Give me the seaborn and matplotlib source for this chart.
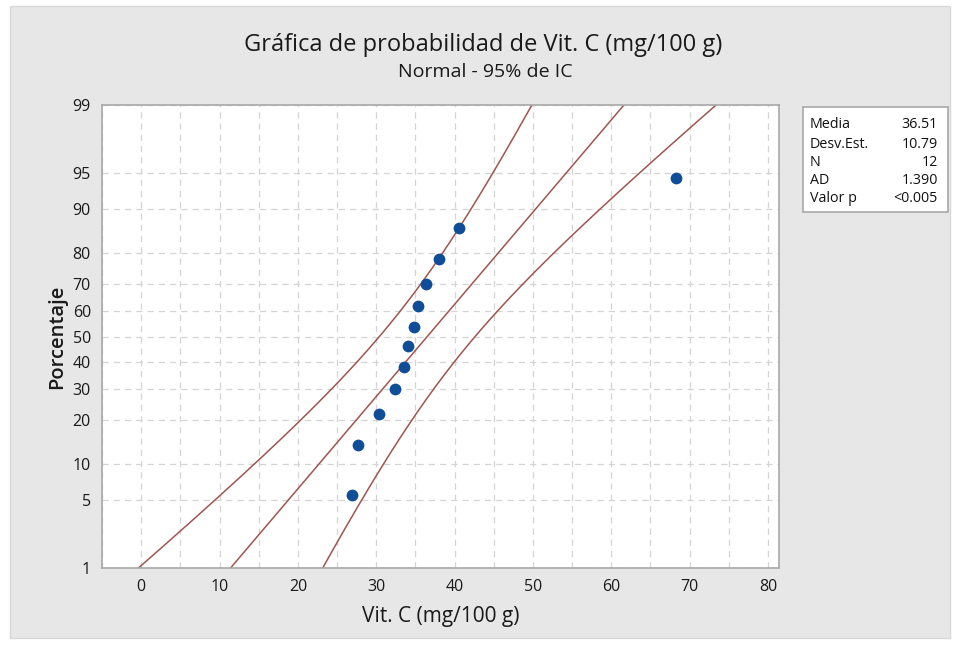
import numpy as np
import pandas as pd
import matplotlib
matplotlib.use("Agg")
import matplotlib.pyplot as plt
import seaborn as sns
from statistics import NormalDist

# ---- data ----
vitc = [26.9, 27.7, 30.3, 32.4, 33.6, 34.1, 34.8, 35.3, 36.3, 38.0, 40.6, 68.2]
percent = [5.6, 13.7, 21.8, 29.8, 37.9, 46.0, 54.0, 62.1, 70.2, 78.2, 86.3, 94.4]
media = 36.51
desv = 10.79
n_obs = 12
ad = 1.390
pval = "<0.005"
y_ticks = [1, 5, 10, 20, 30, 40, 50, 60, 70, 80, 90, 95, 99]
x_ticks = [0, 10, 20, 30, 40, 50, 60, 70, 80]
stat_names = ["Media", "Desv.Est.", "N", "AD", "Valor p"]
stat_values = [f"{media:.2f}", f"{desv:.2f}", f"{n_obs}", f"{ad:.3f}", pval]

title = "Gráfica de probabilidad de Vit. C (mg/100 g)"
subtitle = "Normal - 95% de IC"
xlabel = "Vit. C (mg/100 g)"
ylabel = "Porcentaje"

# ---- fitted line and 95% CI from the displayed parameters ----
nd = NormalDist()
p_grid = np.linspace(0.2, 99.8, 400)
z_grid = np.array([nd.inv_cdf(p / 100) for p in p_grid])
x_fit = media + z_grid * desv
se = np.sqrt(desv**2 / n_obs * (1 + z_grid**2 / 2))
x_lo = x_fit - 1.96 * se
x_hi = x_fit + 1.96 * se

lines = pd.concat([
    pd.DataFrame({"x": x_fit, "p": p_grid, "curve": "fit"}),
    pd.DataFrame({"x": x_lo, "p": p_grid, "curve": "lo"}),
    pd.DataFrame({"x": x_hi, "p": p_grid, "curve": "hi"}),
])
pts = pd.DataFrame({"x": vitc, "p": percent})

sns.set_theme(style="white")
plt.rcParams["font.family"] = ["Open Sans", "DejaVu Sans"]

txt = "#1a1a1a"
fig = plt.figure(figsize=(9.58, 6.46), dpi=100)
fig.patch.set_facecolor("white")
# gray panel
fig.patches.append(matplotlib.patches.Rectangle(
    (10 / 958, 8 / 646), 940 / 958, 632 / 646, transform=fig.transFigure,
    facecolor="#e7e7e7", edgecolor="#d8d8d8", lw=1, zorder=-10))

ax = fig.add_axes([102 / 958, 1 - 568 / 646, 677 / 958, 463 / 646])
ax.set_facecolor("white")


def fwd(p):
    p = np.clip(np.asarray(p, dtype=float), 1e-6, 100 - 1e-6)
    return np.vectorize(lambda v: nd.inv_cdf(v / 100))(p) if p.size else p


def inv(z):
    z = np.asarray(z, dtype=float)
    return np.vectorize(lambda v: nd.cdf(v) * 100)(z) if z.size else z


ax.set_yscale("function", functions=(fwd, inv))

line_col = "#a0554f"
sns.lineplot(data=lines, x="x", y="p", units="curve", estimator=None, sort=False,
             color=line_col, lw=1.1, ax=ax, legend=False)
sns.scatterplot(data=pts, x="x", y="p", color="#0f4d98", s=72, marker="o",
                edgecolor="#0f4d98", linewidth=0, ax=ax, zorder=5)

ax.set_xlim(-4.9, 81.4)
ax.set_ylim(1, 99)
ax.set_yticks(y_ticks)
ax.set_yticklabels([str(t) for t in y_ticks])
ax.set_xticks(x_ticks)
ax.set_xticks(np.arange(-5, 85, 5), minor=True)
ax.yaxis.set_minor_locator(matplotlib.ticker.NullLocator())

ax.grid(True, which="both", axis="x", color="#d4d4d4", ls=(0, (5, 4)), lw=0.9)
ax.grid(True, which="major", axis="y", color="#d4d4d4", ls=(0, (5, 4)), lw=0.9)
ax.set_axisbelow(True)

for s in ax.spines.values():
    s.set_color("#a8a8a8")
    s.set_linewidth(1.2)
ax.tick_params(axis="both", which="major", direction="out", length=5, width=1,
               color="#a8a8a8", labelsize=11.5, labelcolor=txt, pad=3)
ax.tick_params(axis="x", which="minor", length=0)
for lab in ax.get_xticklabels() + ax.get_yticklabels():
    lab.set_fontweight("medium")

ax.set_xlabel(xlabel, fontsize=15, color=txt, labelpad=8, fontweight="medium")
ax.set_ylabel(ylabel, fontsize=14.5, color=txt, labelpad=4, fontweight="semibold")

fig.text(483 / 958, 1 - 45 / 646, title, ha="center", va="center", fontsize=17,
         color=txt, fontweight="medium")
fig.text(485 / 958, 1 - 72 / 646, subtitle, ha="center", va="center", fontsize=14,
         color=txt, fontweight="medium")

# stats box
fig.patches.append(matplotlib.patches.Rectangle(
    (803 / 958, 1 - 212 / 646), 145 / 958, 105 / 646, transform=fig.transFigure,
    facecolor="white", edgecolor="#a8a8a8", lw=1.2, zorder=1))
row_y = [125, 144, 162, 181, 199]
for name, val, yy in zip(stat_names, stat_values, row_y):
    fig.text(810 / 958, 1 - yy / 646, name, ha="left", va="center", fontsize=10.3,
             color="#111111", zorder=2)
    fig.text(938 / 958, 1 - yy / 646, val, ha="right", va="center", fontsize=10.3,
             color="#111111", zorder=2)

fig.savefig("out.png", dpi=100, facecolor=fig.get_facecolor())
